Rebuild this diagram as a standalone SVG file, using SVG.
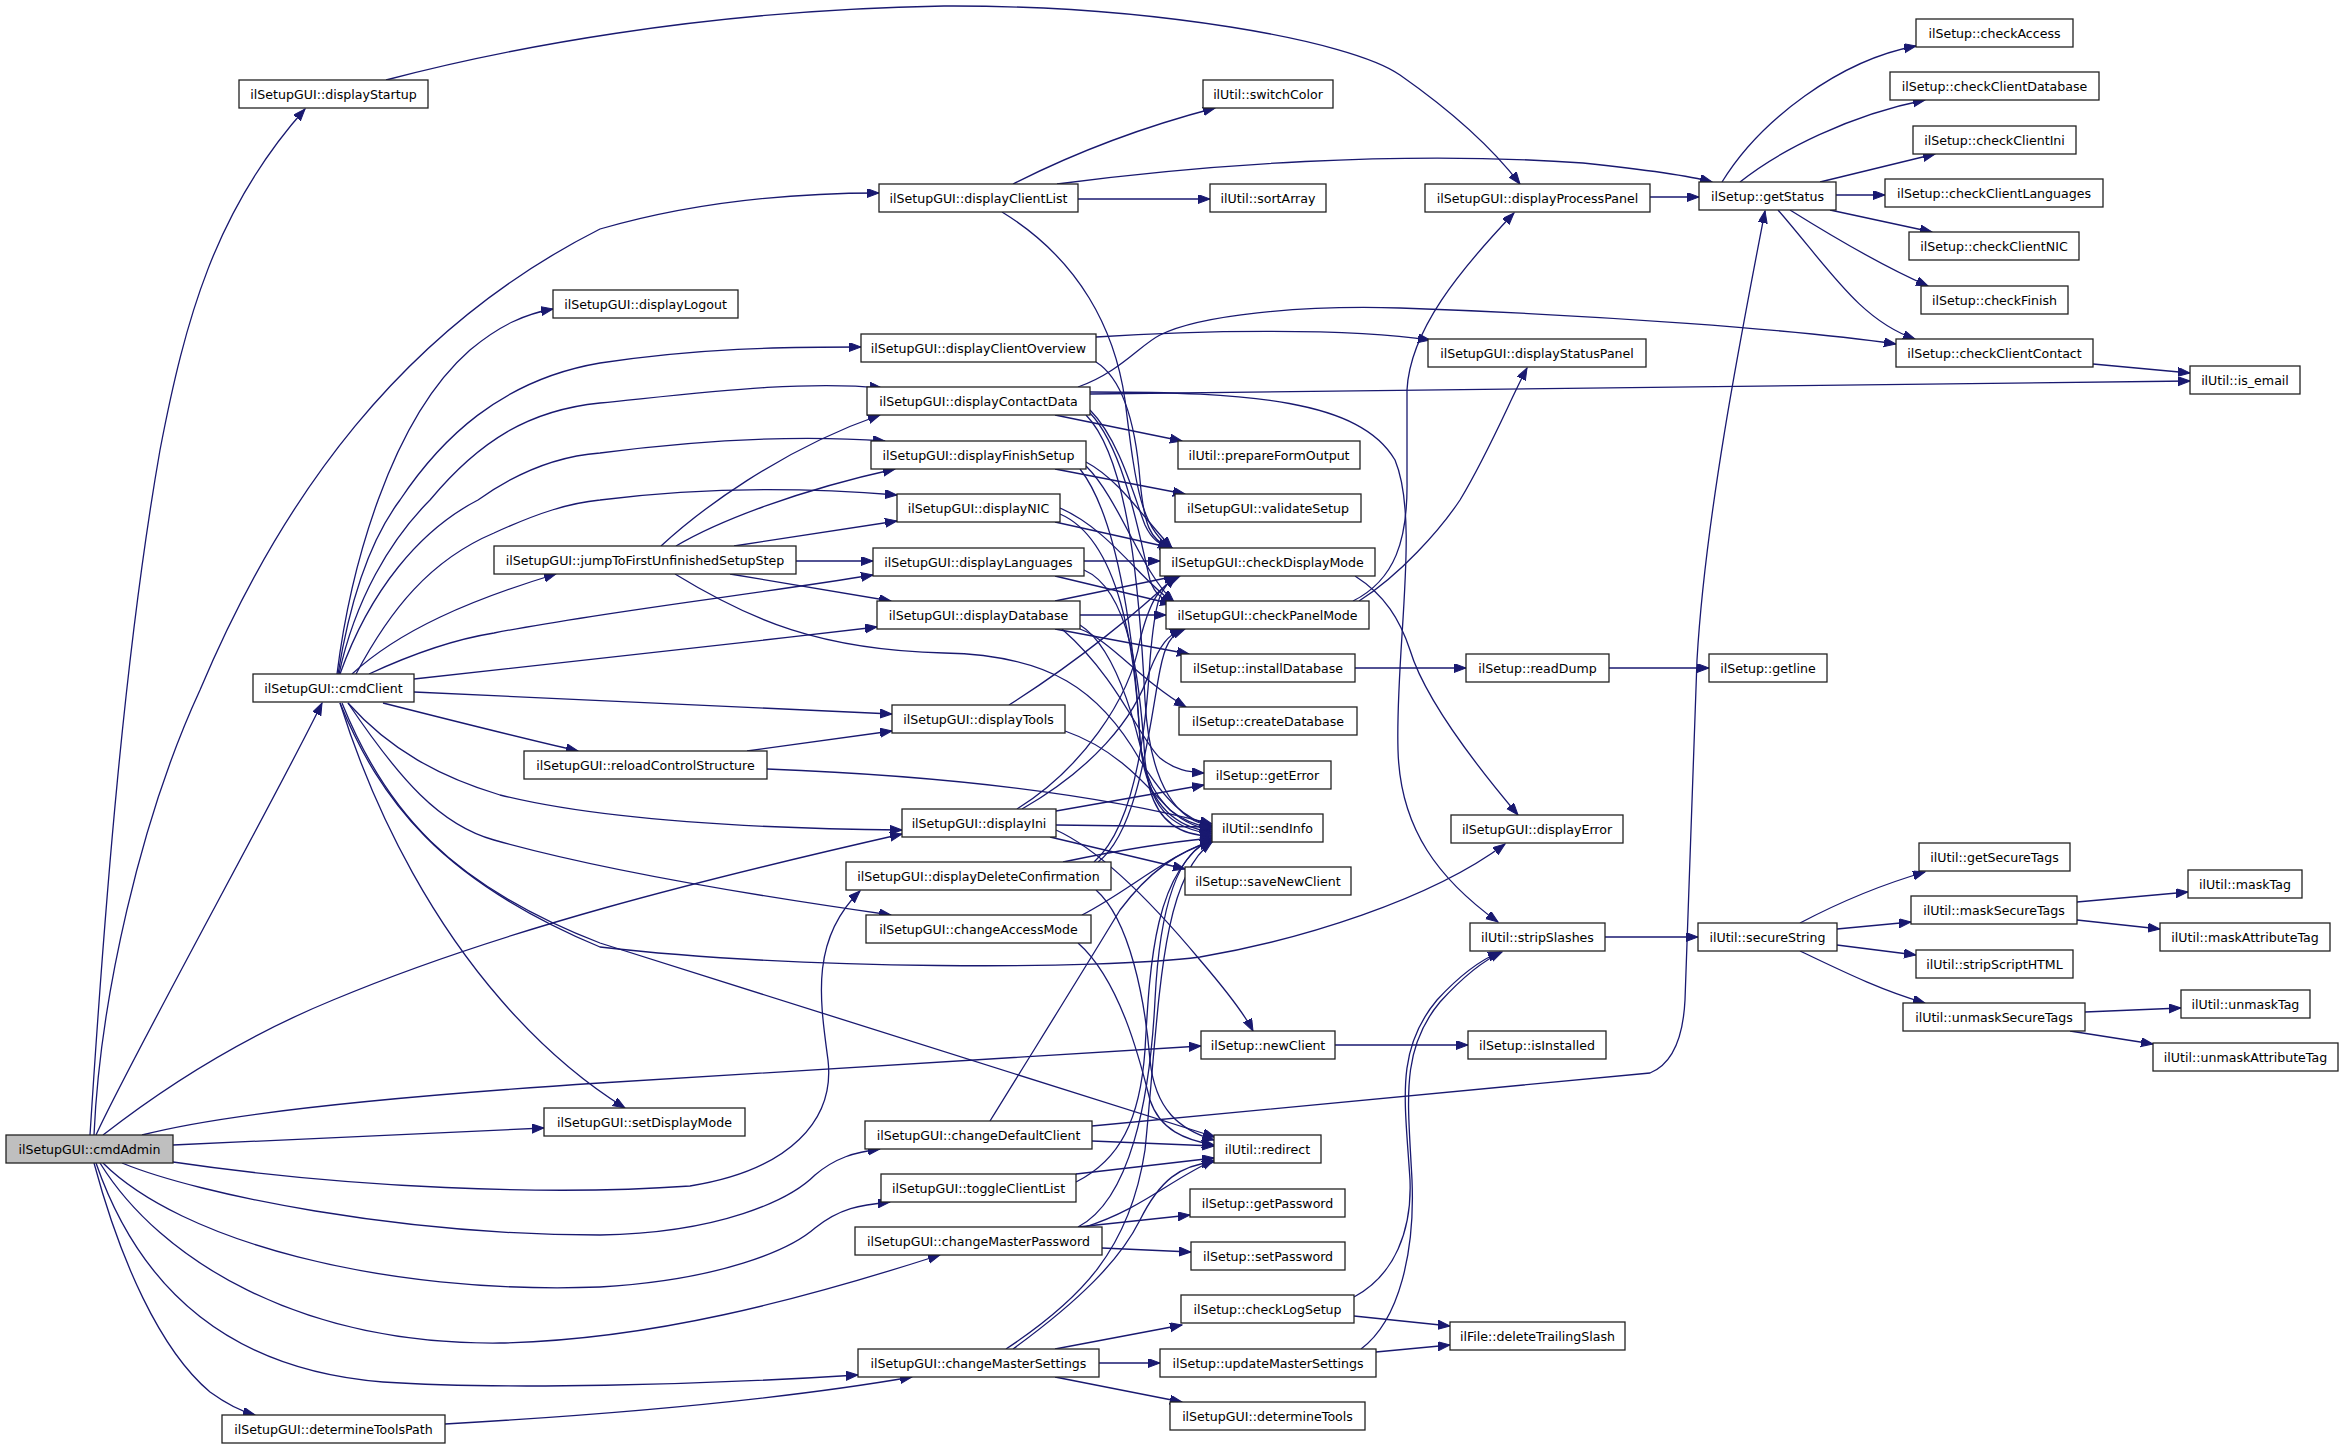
<svg xmlns="http://www.w3.org/2000/svg" width="2344" height="1449" viewBox="0 0 2344 1449">
<defs>
<marker id="a" markerWidth="13" markerHeight="10" refX="12" refY="4.5" orient="auto" markerUnits="userSpaceOnUse"><path d="M0,0 L12,4.5 L0,9 z" fill="#191970" stroke="#191970" stroke-width="1"/></marker>
</defs>
<style>
.n rect{fill:#ffffff;stroke:#222222;stroke-width:1.3}
.n.root rect{fill:#bfbfbf}
.n text{font-family:"DejaVu Sans","Liberation Sans",sans-serif;font-size:12.6px;text-anchor:middle;fill:#000000}
#edges path{fill:none;stroke:#191970;stroke-width:1.3;marker-end:url(#a)}
</style>
<rect x="0" y="0" width="2344" height="1449" fill="#ffffff"/>
<g id="edges">
<path d="M90,1135 C105,900 125,650 160,450 C185,320 215,210 305,109"/>
<path d="M94,1135 C100,1000 140,820 200,690 C280,500 400,330 600,229 C700,200 800,193 879,193"/>
<path d="M96,1135 C130,1060 280,790 322,703"/>
<path d="M103,1135 C180,1075 260,1030 333,1000 C500,930 700,880 902,834"/>
<path d="M142,1135 C230,1112 400,1096 600,1083 L1201,1046"/>
<path d="M173,1145 L544,1128"/>
<path d="M173,1162 C350,1188 550,1196 690,1186 C790,1170 835,1120 828,1060 C820,1000 810,940 860,891"/>
<path d="M122,1163 C200,1195 400,1235 600,1235 C720,1233 790,1200 815,1175 C835,1158 855,1152 880,1149"/>
<path d="M103,1163 C180,1240 380,1295 600,1287 C720,1280 790,1250 815,1228 C840,1208 860,1205 890,1202"/>
<path d="M100,1163 C160,1260 300,1345 500,1343 C650,1340 800,1300 940,1255"/>
<path d="M96,1163 C140,1290 230,1370 383,1382 C500,1390 700,1385 858,1375"/>
<path d="M94,1163 C120,1260 160,1350 210,1392 C228,1405 240,1411 255,1415"/>
<path d="M445,1424 C550,1418 750,1405 912,1377"/>
<path d="M337,674 C350,570 390,420 470,350 C500,325 525,314 553,309"/>
<path d="M338,674 C350,600 370,540 400,500 C440,440 500,380 600,363 C700,348 780,347 861,347"/>
<path d="M339,674 C355,600 390,540 430,500 C480,440 530,410 600,403 C700,393 800,380 882,388"/>
<path d="M340,674 C370,590 420,530 478,500 C520,470 560,456 600,453 C700,440 800,435 885,441"/>
<path d="M356,674 C390,610 430,560 494,533 C540,512 570,503 600,500 C700,487 800,487 897,495"/>
<path d="M352,674 C400,630 470,600 556,574"/>
<path d="M369,674 C410,655 450,640 494,633 C600,612 750,595 873,575"/>
<path d="M414,679 C500,669 700,648 877,627"/>
<path d="M414,692 C500,696 700,705 892,714"/>
<path d="M383,703 C450,720 530,740 578,751"/>
<path d="M348,703 C390,750 440,777 500,795 C580,815 700,828 902,830"/>
<path d="M348,703 C400,780 440,825 494,840 C600,870 750,895 891,915"/>
<path d="M340,703 C380,800 440,880 600,947 C800,970 1100,970 1200,957 C1300,940 1430,900 1505,844"/>
<path d="M342,703 C385,810 450,885 600,943 L1215,1137"/>
<path d="M340,703 C380,830 440,930 501,1000 C540,1045 580,1080 625,1108"/>
<path d="M661,546 C700,510 780,450 880,415"/>
<path d="M676,546 C720,520 800,490 895,469"/>
<path d="M734,546 L897,521"/>
<path d="M796,561 L873,561"/>
<path d="M730,574 L891,601"/>
<path d="M675,574 C750,620 820,650 944,653 C1050,655 1100,690 1140,760 C1165,800 1185,820 1212,826"/>
<path d="M386,80 C500,50 700,10 944,6 C1150,5 1350,40 1400,75 C1450,110 1490,145 1520,184"/>
<path d="M1013,184 C1080,150 1150,125 1215,108"/>
<path d="M1057,184 C1200,165 1400,150 1583,163 C1650,170 1690,176 1712,182"/>
<path d="M1078,199 L1210,199"/>
<path d="M1002,212 C1080,260 1115,330 1125,400 C1135,480 1140,530 1172,548"/>
<path d="M1096,337 C1200,330 1350,328 1430,340"/>
<path d="M1096,362 C1125,380 1136,430 1140,480 C1144,525 1150,540 1170,548"/>
<path d="M1078,387 C1120,372 1140,345 1160,335 C1200,315 1300,305 1400,308 C1600,315 1800,330 1896,344"/>
<path d="M1090,394 L2190,381"/>
<path d="M1055,415 L1182,441"/>
<path d="M1090,392 C1250,392 1360,400 1395,460 C1420,520 1395,650 1398,750 C1400,830 1440,880 1498,922"/>
<path d="M1090,410 C1120,440 1135,500 1145,525 C1152,540 1160,545 1172,548"/>
<path d="M1090,413 C1125,450 1140,540 1150,580 C1155,595 1163,600 1174,602"/>
<path d="M1086,415 C1130,460 1140,600 1145,700 C1150,790 1180,822 1212,826"/>
<path d="M1055,469 L1185,494"/>
<path d="M1086,462 C1120,480 1145,520 1172,548"/>
<path d="M1086,466 C1120,500 1140,570 1174,602"/>
<path d="M1080,469 C1120,520 1135,650 1140,740 C1145,800 1180,825 1212,830"/>
<path d="M1055,522 L1172,548"/>
<path d="M1060,508 C1110,530 1140,580 1174,603"/>
<path d="M1060,514 C1120,540 1135,650 1140,740 C1145,810 1180,828 1212,832"/>
<path d="M1084,561 L1160,561"/>
<path d="M1055,576 L1172,604"/>
<path d="M1084,570 C1130,590 1140,680 1145,760 C1150,815 1180,830 1212,834"/>
<path d="M1055,601 L1176,576"/>
<path d="M1080,615 L1166,615"/>
<path d="M1055,629 L1189,654"/>
<path d="M1080,629 C1110,640 1140,680 1186,707"/>
<path d="M1062,629 C1120,680 1140,740 1160,758 C1175,770 1188,772 1204,773"/>
<path d="M1080,625 C1120,650 1140,740 1150,790 C1160,825 1185,836 1212,836"/>
<path d="M1009,705 C1080,660 1140,610 1176,576"/>
<path d="M1065,731 C1120,750 1150,790 1170,810 C1185,822 1198,826 1212,828"/>
<path d="M747,751 L892,731"/>
<path d="M767,769 C950,776 1100,795 1212,824"/>
<path d="M1017,809 C1080,770 1130,700 1140,640 C1150,600 1160,585 1180,576"/>
<path d="M1022,809 C1090,770 1135,720 1150,670 C1160,645 1168,635 1182,629"/>
<path d="M1056,811 L1204,785"/>
<path d="M1056,825 L1212,827"/>
<path d="M1050,837 L1185,869"/>
<path d="M1056,830 C1100,850 1150,900 1200,960 C1230,995 1245,1015 1253,1031"/>
<path d="M1063,862 C1120,850 1170,842 1212,838"/>
<path d="M1094,862 C1130,830 1145,750 1150,660 C1155,600 1160,585 1178,576"/>
<path d="M1098,862 C1140,830 1150,720 1160,670 C1165,645 1170,635 1185,629"/>
<path d="M1096,890 C1130,920 1145,1000 1150,1060 C1155,1110 1180,1130 1214,1140"/>
<path d="M1082,915 C1130,890 1160,860 1212,840"/>
<path d="M1078,943 C1120,980 1140,1060 1150,1100 C1160,1130 1185,1140 1214,1145"/>
<path d="M1092,1126 L1650,1073 Q1682,1060 1685,1000 L1697,660 C1705,520 1740,340 1765,211"/>
<path d="M1092,1141 L1214,1146"/>
<path d="M990,1121 C1040,1040 1090,960 1120,910 C1150,870 1180,850 1212,842"/>
<path d="M1076,1174 L1214,1158"/>
<path d="M1076,1182 C1120,1160 1140,1120 1145,1050 C1150,960 1155,870 1212,838"/>
<path d="M1078,1227 L1190,1215"/>
<path d="M1102,1248 L1191,1252"/>
<path d="M1078,1227 C1130,1200 1150,1100 1155,1000 C1160,900 1180,850 1212,840"/>
<path d="M1085,1227 C1140,1210 1170,1180 1214,1160"/>
<path d="M1055,1349 L1182,1325"/>
<path d="M1099,1363 L1160,1363"/>
<path d="M1055,1377 L1182,1402"/>
<path d="M1006,1349 C1080,1300 1130,1250 1145,1150 C1160,1000 1160,880 1212,842"/>
<path d="M1013,1349 C1080,1300 1120,1260 1140,1220 C1160,1180 1180,1165 1214,1162"/>
<path d="M1354,1316 L1450,1326"/>
<path d="M1354,1297 C1395,1275 1412,1230 1410,1180 C1405,1100 1395,1050 1437,1000 C1460,975 1480,960 1500,952"/>
<path d="M1376,1352 L1450,1345"/>
<path d="M1361,1349 C1400,1320 1415,1250 1412,1180 C1408,1100 1400,1050 1440,1002 C1460,980 1480,962 1502,952"/>
<path d="M1355,576 C1385,595 1400,620 1410,650 C1425,700 1480,770 1518,815"/>
<path d="M1353,601 C1395,580 1408,540 1407,480 L1407,390 C1410,330 1460,270 1514,213"/>
<path d="M1359,601 C1400,575 1440,530 1460,500 C1490,450 1510,400 1527,368"/>
<path d="M1355,668 L1466,668"/>
<path d="M1609,668 L1709,668"/>
<path d="M1335,1045 L1468,1045"/>
<path d="M1605,937 L1698,937"/>
<path d="M1650,197 L1699,197"/>
<path d="M1722,182 C1760,120 1840,60 1916,46"/>
<path d="M1740,182 C1780,150 1850,115 1925,100"/>
<path d="M1820,182 L1935,154"/>
<path d="M1836,195 L1885,195"/>
<path d="M1830,210 L1932,232"/>
<path d="M1790,210 C1830,235 1880,265 1928,286"/>
<path d="M1778,210 C1830,270 1860,320 1915,339"/>
<path d="M2093,364 L2190,373"/>
<path d="M1800,923 C1840,902 1880,885 1925,872"/>
<path d="M1837,929 L1911,922"/>
<path d="M1837,945 L1916,955"/>
<path d="M1800,951 C1840,970 1880,990 1925,1003"/>
<path d="M2077,902 L2188,892"/>
<path d="M2077,920 L2160,929"/>
<path d="M2085,1012 L2181,1008"/>
<path d="M2070,1031 L2153,1044"/>
</g>
<g id="n-cmdAdmin" class="n root"><rect x="6" y="1135" width="167" height="28"/><text x="89.5" y="1153.5">ilSetupGUI::cmdAdmin</text></g>
<g id="n-displayStartup" class="n"><rect x="239" y="80" width="189" height="28"/><text x="333.5" y="98.5">ilSetupGUI::displayStartup</text></g>
<g id="n-cmdClient" class="n"><rect x="253" y="674" width="161" height="28"/><text x="333.5" y="692.5">ilSetupGUI::cmdClient</text></g>
<g id="n-displayLogout" class="n"><rect x="553" y="290" width="185" height="28"/><text x="645.5" y="308.5">ilSetupGUI::displayLogout</text></g>
<g id="n-displayClientList" class="n"><rect x="879" y="184" width="199" height="28"/><text x="978.5" y="202.5">ilSetupGUI::displayClientList</text></g>
<g id="n-displayClientOverview" class="n"><rect x="861" y="334" width="235" height="28"/><text x="978.5" y="352.5">ilSetupGUI::displayClientOverview</text></g>
<g id="n-displayContactData" class="n"><rect x="867" y="387" width="223" height="28"/><text x="978.5" y="405.5">ilSetupGUI::displayContactData</text></g>
<g id="n-displayFinishSetup" class="n"><rect x="871" y="441" width="215" height="28"/><text x="978.5" y="459.5">ilSetupGUI::displayFinishSetup</text></g>
<g id="n-displayNIC" class="n"><rect x="897" y="494" width="163" height="28"/><text x="978.5" y="512.5">ilSetupGUI::displayNIC</text></g>
<g id="n-jumpToFirstUnfinishedSetupStep" class="n"><rect x="494" y="546" width="302" height="28"/><text x="645" y="564.5">ilSetupGUI::jumpToFirstUnfinishedSetupStep</text></g>
<g id="n-displayLanguages" class="n"><rect x="873" y="548" width="211" height="28"/><text x="978.5" y="566.5">ilSetupGUI::displayLanguages</text></g>
<g id="n-displayDatabase" class="n"><rect x="877" y="601" width="203" height="28"/><text x="978.5" y="619.5">ilSetupGUI::displayDatabase</text></g>
<g id="n-displayTools" class="n"><rect x="892" y="705" width="173" height="28"/><text x="978.5" y="723.5">ilSetupGUI::displayTools</text></g>
<g id="n-reloadControlStructure" class="n"><rect x="524" y="751" width="243" height="28"/><text x="645.5" y="769.5">ilSetupGUI::reloadControlStructure</text></g>
<g id="n-displayIni" class="n"><rect x="902" y="809" width="154" height="28"/><text x="979" y="827.5">ilSetupGUI::displayIni</text></g>
<g id="n-displayDeleteConfirmation" class="n"><rect x="846" y="862" width="265" height="28"/><text x="978.5" y="880.5">ilSetupGUI::displayDeleteConfirmation</text></g>
<g id="n-changeAccessMode" class="n"><rect x="866" y="915" width="225" height="28"/><text x="978.5" y="933.5">ilSetupGUI::changeAccessMode</text></g>
<g id="n-setDisplayMode" class="n"><rect x="544" y="1108" width="201" height="28"/><text x="644.5" y="1126.5">ilSetupGUI::setDisplayMode</text></g>
<g id="n-changeDefaultClient" class="n"><rect x="865" y="1121" width="227" height="28"/><text x="978.5" y="1139.5">ilSetupGUI::changeDefaultClient</text></g>
<g id="n-toggleClientList" class="n"><rect x="881" y="1174" width="195" height="28"/><text x="978.5" y="1192.5">ilSetupGUI::toggleClientList</text></g>
<g id="n-changeMasterPassword" class="n"><rect x="855" y="1227" width="247" height="28"/><text x="978.5" y="1245.5">ilSetupGUI::changeMasterPassword</text></g>
<g id="n-changeMasterSettings" class="n"><rect x="858" y="1349" width="241" height="28"/><text x="978.5" y="1367.5">ilSetupGUI::changeMasterSettings</text></g>
<g id="n-determineToolsPath" class="n"><rect x="222" y="1415" width="223" height="28"/><text x="333.5" y="1433.5">ilSetupGUI::determineToolsPath</text></g>
<g id="n-switchColor" class="n"><rect x="1203" y="80" width="130" height="28"/><text x="1268" y="98.5">ilUtil::switchColor</text></g>
<g id="n-sortArray" class="n"><rect x="1210" y="184" width="116" height="28"/><text x="1268" y="202.5">ilUtil::sortArray</text></g>
<g id="n-prepareFormOutput" class="n"><rect x="1178" y="441" width="182" height="28"/><text x="1269" y="459.5">ilUtil::prepareFormOutput</text></g>
<g id="n-validateSetup" class="n"><rect x="1175" y="494" width="186" height="28"/><text x="1268" y="512.5">ilSetupGUI::validateSetup</text></g>
<g id="n-checkDisplayMode" class="n"><rect x="1160" y="548" width="215" height="28"/><text x="1267.5" y="566.5">ilSetupGUI::checkDisplayMode</text></g>
<g id="n-checkPanelMode" class="n"><rect x="1166" y="601" width="203" height="28"/><text x="1267.5" y="619.5">ilSetupGUI::checkPanelMode</text></g>
<g id="n-installDatabase" class="n"><rect x="1181" y="654" width="174" height="28"/><text x="1268" y="672.5">ilSetup::installDatabase</text></g>
<g id="n-createDatabase" class="n"><rect x="1179" y="707" width="178" height="28"/><text x="1268" y="725.5">ilSetup::createDatabase</text></g>
<g id="n-getError" class="n"><rect x="1204" y="761" width="127" height="28"/><text x="1267.5" y="779.5">ilSetup::getError</text></g>
<g id="n-sendInfo" class="n"><rect x="1212" y="814" width="111" height="28"/><text x="1267.5" y="832.5">ilUtil::sendInfo</text></g>
<g id="n-saveNewClient" class="n"><rect x="1185" y="867" width="166" height="28"/><text x="1268" y="885.5">ilSetup::saveNewClient</text></g>
<g id="n-newClient" class="n"><rect x="1201" y="1031" width="134" height="28"/><text x="1268" y="1049.5">ilSetup::newClient</text></g>
<g id="n-redirect" class="n"><rect x="1214" y="1135" width="107" height="28"/><text x="1267.5" y="1153.5">ilUtil::redirect</text></g>
<g id="n-getPassword" class="n"><rect x="1190" y="1189" width="155" height="28"/><text x="1267.5" y="1207.5">ilSetup::getPassword</text></g>
<g id="n-setPassword" class="n"><rect x="1191" y="1242" width="154" height="28"/><text x="1268" y="1260.5">ilSetup::setPassword</text></g>
<g id="n-checkLogSetup" class="n"><rect x="1181" y="1295" width="173" height="28"/><text x="1267.5" y="1313.5">ilSetup::checkLogSetup</text></g>
<g id="n-updateMasterSettings" class="n"><rect x="1160" y="1349" width="216" height="28"/><text x="1268" y="1367.5">ilSetup::updateMasterSettings</text></g>
<g id="n-determineTools" class="n"><rect x="1170" y="1402" width="195" height="28"/><text x="1267.5" y="1420.5">ilSetupGUI::determineTools</text></g>
<g id="n-displayProcessPanel" class="n"><rect x="1425" y="184" width="225" height="28"/><text x="1537.5" y="202.5">ilSetupGUI::displayProcessPanel</text></g>
<g id="n-displayStatusPanel" class="n"><rect x="1428" y="339" width="218" height="28"/><text x="1537" y="357.5">ilSetupGUI::displayStatusPanel</text></g>
<g id="n-readDump" class="n"><rect x="1466" y="654" width="143" height="28"/><text x="1537.5" y="672.5">ilSetup::readDump</text></g>
<g id="n-displayError" class="n"><rect x="1451" y="815" width="172" height="28"/><text x="1537" y="833.5">ilSetupGUI::displayError</text></g>
<g id="n-stripSlashes" class="n"><rect x="1470" y="923" width="135" height="28"/><text x="1537.5" y="941.5">ilUtil::stripSlashes</text></g>
<g id="n-isInstalled" class="n"><rect x="1468" y="1031" width="138" height="28"/><text x="1537" y="1049.5">ilSetup::isInstalled</text></g>
<g id="n-deleteTrailingSlash" class="n"><rect x="1450" y="1322" width="175" height="28"/><text x="1537.5" y="1340.5">ilFile::deleteTrailingSlash</text></g>
<g id="n-getStatus" class="n"><rect x="1699" y="182" width="137" height="28"/><text x="1767.5" y="200.5">ilSetup::getStatus</text></g>
<g id="n-getline" class="n"><rect x="1709" y="654" width="118" height="28"/><text x="1768" y="672.5">ilSetup::getline</text></g>
<g id="n-secureString" class="n"><rect x="1698" y="923" width="139" height="28"/><text x="1767.5" y="941.5">ilUtil::secureString</text></g>
<g id="n-checkAccess" class="n"><rect x="1916" y="19" width="157" height="28"/><text x="1994.5" y="37.5">ilSetup::checkAccess</text></g>
<g id="n-checkClientDatabase" class="n"><rect x="1890" y="72" width="209" height="28"/><text x="1994.5" y="90.5">ilSetup::checkClientDatabase</text></g>
<g id="n-checkClientIni" class="n"><rect x="1913" y="126" width="163" height="28"/><text x="1994.5" y="144.5">ilSetup::checkClientIni</text></g>
<g id="n-checkClientLanguages" class="n"><rect x="1885" y="179" width="218" height="28"/><text x="1994" y="197.5">ilSetup::checkClientLanguages</text></g>
<g id="n-checkClientNIC" class="n"><rect x="1909" y="232" width="170" height="28"/><text x="1994" y="250.5">ilSetup::checkClientNIC</text></g>
<g id="n-checkFinish" class="n"><rect x="1921" y="286" width="147" height="28"/><text x="1994.5" y="304.5">ilSetup::checkFinish</text></g>
<g id="n-checkClientContact" class="n"><rect x="1896" y="339" width="197" height="28"/><text x="1994.5" y="357.5">ilSetup::checkClientContact</text></g>
<g id="n-is_email" class="n"><rect x="2190" y="366" width="110" height="28"/><text x="2245" y="384.5">ilUtil::is_email</text></g>
<g id="n-getSecureTags" class="n"><rect x="1919" y="843" width="151" height="28"/><text x="1994.5" y="861.5">ilUtil::getSecureTags</text></g>
<g id="n-maskSecureTags" class="n"><rect x="1911" y="896" width="166" height="28"/><text x="1994" y="914.5">ilUtil::maskSecureTags</text></g>
<g id="n-stripScriptHTML" class="n"><rect x="1916" y="950" width="157" height="28"/><text x="1994.5" y="968.5">ilUtil::stripScriptHTML</text></g>
<g id="n-unmaskSecureTags" class="n"><rect x="1903" y="1003" width="182" height="28"/><text x="1994" y="1021.5">ilUtil::unmaskSecureTags</text></g>
<g id="n-maskTag" class="n"><rect x="2188" y="870" width="114" height="28"/><text x="2245" y="888.5">ilUtil::maskTag</text></g>
<g id="n-maskAttributeTag" class="n"><rect x="2160" y="923" width="170" height="28"/><text x="2245" y="941.5">ilUtil::maskAttributeTag</text></g>
<g id="n-unmaskTag" class="n"><rect x="2181" y="990" width="129" height="28"/><text x="2245.5" y="1008.5">ilUtil::unmaskTag</text></g>
<g id="n-unmaskAttributeTag" class="n"><rect x="2153" y="1043" width="185" height="28"/><text x="2245.5" y="1061.5">ilUtil::unmaskAttributeTag</text></g>
</svg>
